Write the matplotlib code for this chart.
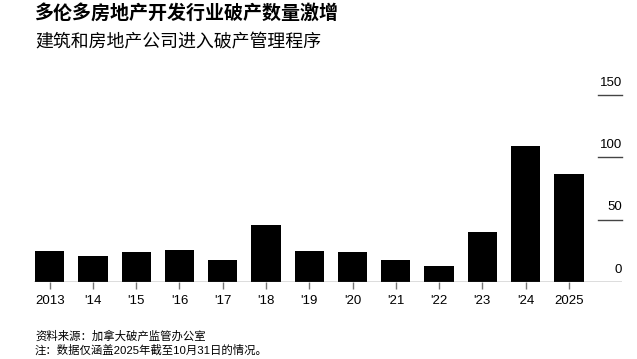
import matplotlib
matplotlib.use("Agg")
import matplotlib.pyplot as plt
import matplotlib.transforms as mtransforms

plt.rcParams['font.family'] = ['Liberation Sans', 'Noto Sans CJK SC', 'DejaVu Sans']

years = ["2013", "'14", "'15", "'16", "'17", "'18", "'19", "'20", "'21", "'22", "'23", "'24", "2025"]
counts = [25, 21, 24, 26, 18, 46, 25, 24, 18, 13, 40, 109, 87]
yticks = [0, 50, 100, 150]

title = "多伦多房地产开发行业破产数量激增"
subtitle = "建筑和房地产公司进入破产管理程序"
source = "资料来源：加拿大破产监管办公室"
note = "注：数据仅涵盖2025年截至10月31日的情况。"

fig = plt.figure(figsize=(6.37, 3.59), dpi=100)
ax = fig.add_axes([34/637, 1-282/359, (622-34)/637, (282-95)/359])

x = list(range(len(years)))
ax.bar(x, counts, width=0.68, color='black', edgecolor='none', zorder=3)
ax.set_xlim(-0.363, 13.23)
ax.set_ylim(0, 150)

for s in ax.spines.values():
    s.set_visible(False)

ax.axhline(0, color='#555555', lw=1.0, zorder=4)

ax.set_xticks(x)
ax.set_xticklabels(years, fontsize=9.5, color='black')
ax.tick_params(axis='x', length=5, width=1, color='#777777', pad=4)
ax.set_yticks([])

trans = mtransforms.blended_transform_factory(ax.transAxes, ax.transData)
label_trans = trans + mtransforms.ScaledTranslation(0, 4.5/72, fig.dpi_scale_trans)
gx0 = (598-34)/(622-34)
for v in yticks:
    if v > 0:
        ax.plot([gx0, 1.0], [v, v], transform=trans, color='#444444', lw=1.0, clip_on=False)
    ax.text(1.0, v, str(v), transform=label_trans, ha='right', va='bottom', fontsize=9.5,
            color='black')

fig.text(35/637, 1-13.5/359, title, fontsize=13.7, fontweight='bold', va='center', ha='left',
         family=['Noto Sans CJK SC', 'DejaVu Sans'])
fig.text(35/637, 1-42/359, subtitle, fontsize=12.9, va='center', ha='left',
         family=['Noto Sans CJK SC', 'DejaVu Sans'])
fig.text(35/637, 1-336/359, source, fontsize=8.2, va='center', ha='left')
fig.text(35/637, 1-350.5/359, note, fontsize=8.2, va='center', ha='left')

fig.savefig("out.png", dpi=100)
